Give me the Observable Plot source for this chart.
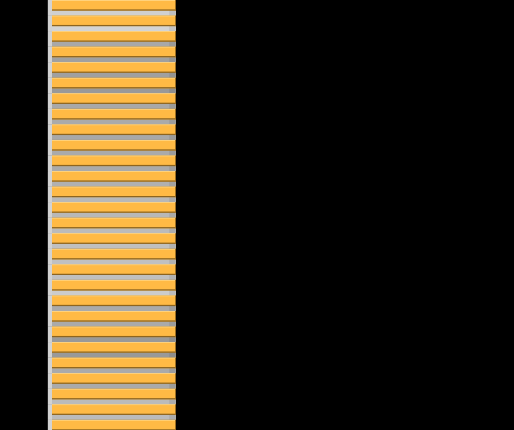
<!DOCTYPE html>
<html>
<head>
<meta charset="utf-8">
<script src="https://cdn.jsdelivr.net/npm/d3@7"></script>
<script src="https://cdn.jsdelivr.net/npm/@observablehq/plot@0.6"></script>
<style>
  html, body { margin: 0; padding: 0; background: #000; }
  #chart svg { display: block; background: #000; }
</style>
</head>
<body>
<div id="chart"></div>
<script>
const categories = d3.range(28).map(i => "R" + (i + 1));
const values = [100,100,100,100,100,100,100,100,100,100,100,100,100,100,100,100,100,100,100,100,100,100,100,100,100,100,100,100];
const backValues = [100,100,100,100,100,100,100,100,100,100,100,100,100,100,100,100,100,100,100,100,100,100,100,100,100,100,100,100];
const grayShades = ["#d0d0d0","#d4d4d4","#a8a8a8","#a0a0a0","#a0a0a0","#999999","#a8a8a8","#aaaaaa","#a8a8a8","#aaaaaa","#aaaaaa","#b0b0b0","#b8b8b8","#b8b8b8","#bbbbbb","#c0c0c0","#c0c0c0","#c0c0c0","#cccccc","#aaaaaa","#aaaaaa","#999999","#999999","#aaaaaa","#aaaaaa","#bbbbbb","#bbbbbb","#bbbbbb"];

const data = categories.map((c, i) => ({cat: c, value: values[i], back: backValues[i], shade: grayShades[i]}));

const rowH = 15.55;
const chart = Plot.plot({
  width: 514,
  height: 430,
  marginLeft: 52,
  marginRight: 338,
  marginTop: 0,
  marginBottom: 0,
  style: {background: "#000"},
  x: {domain: [0, 100], axis: null},
  y: {type: "band", domain: categories, range: [0, rowH * categories.length], padding: 0, round: false, axis: null},
  marks: [
    Plot.barX(data, {y: "cat", x1: -3.3, x2: "back", fill: d => d.shade}),
    Plot.barX(data, {y: "cat", x1: d => d.back - 5.5, x2: "back", fill: "#000", fillOpacity: 0.08}),
    Plot.barX(data, {y: "cat", x1: -3.3, x2: 0, fill: "#d2d2d2"}),
    Plot.barX(data, {y: "cat", x1: 0, x2: "value", fill: "#FFBA45", insetBottom: 5}),
    Plot.barX(data, {y: "cat", x1: 0, x2: "value", fill: "#FFD98A", insetBottom: rowH - 0.8}),
    Plot.barX(data, {y: "cat", x1: 0, x2: "value", fill: "#8C6420", insetTop: 9.4, insetBottom: 4.9}),
    Plot.barX(data, {y: "cat", x1: d => d.value - 0.8, x2: "value", fill: "#9A6C22", insetBottom: 5})
  ]
});
document.getElementById("chart").appendChild(chart);
</script>
</body>
</html>
